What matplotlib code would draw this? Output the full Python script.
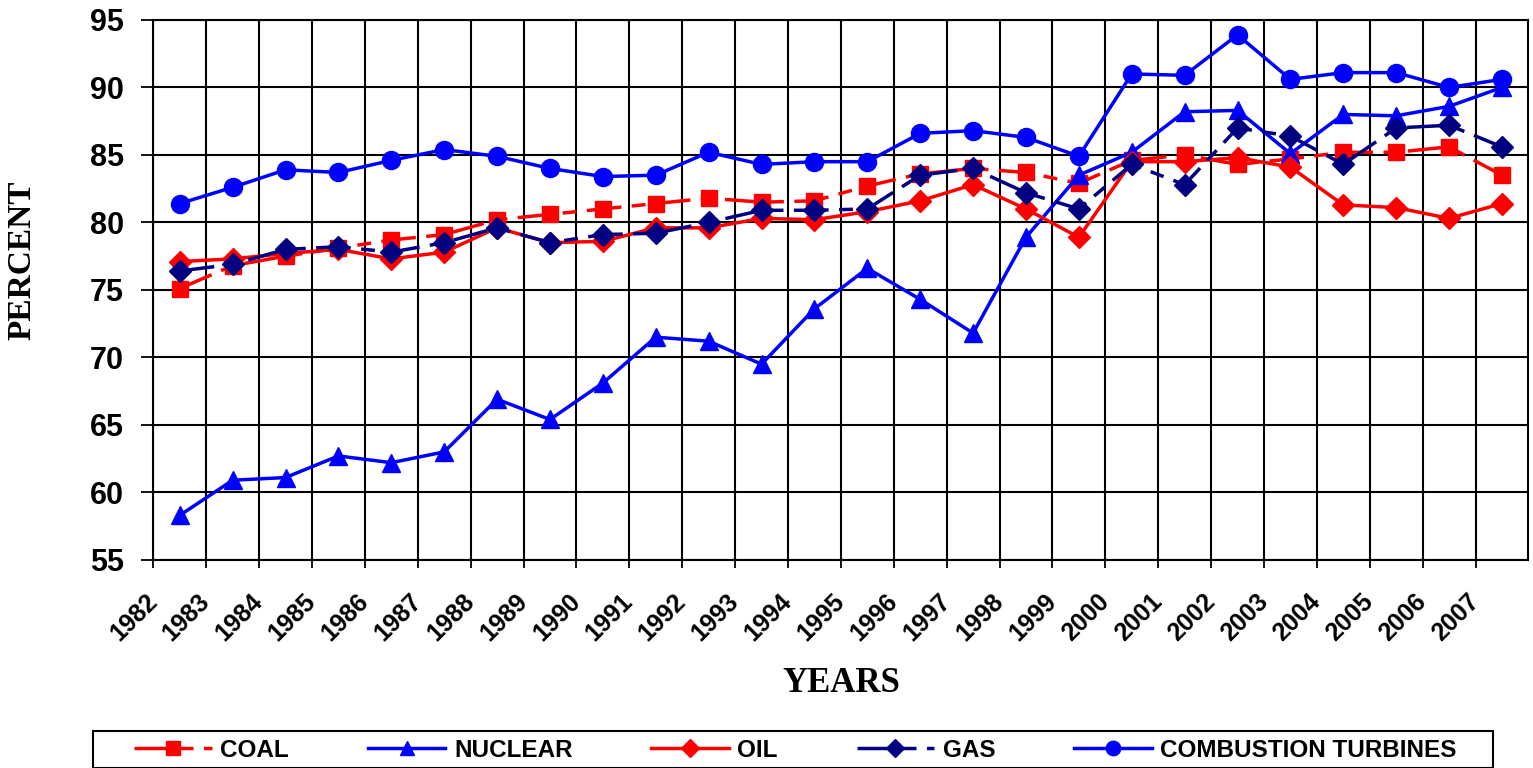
import matplotlib.pyplot as plt
from matplotlib.patches import Rectangle
import numpy as np

# DADOS:
anos = list(range(1982, 2008))
coal = [75.1, 76.8, 77.5, 78.1, 78.7, 79.1, 80.2, 80.6, 81.0, 81.4, 81.8, 81.5, 81.6, 82.7,
        83.6, 84.0, 83.7, 82.9, 84.6, 85.0, 84.3, 84.7, 85.2, 85.2, 85.6, 83.5]
nuclear = [58.3, 60.9, 61.1, 62.7, 62.2, 63.0, 66.9, 65.4, 68.1, 71.5, 71.2, 69.5, 73.6, 76.6,
           74.3, 71.8, 78.9, 83.5, 85.2, 88.2, 88.3, 85.1, 88.0, 87.9, 88.6, 90.0]
oil = [77.1, 77.3, 77.7, 78.0, 77.3, 77.8, 79.6, 78.5, 78.6, 79.6, 79.6, 80.3, 80.2, 80.8,
       81.6, 82.8, 81.0, 78.9, 84.5, 84.5, 84.8, 84.1, 81.3, 81.1, 80.3, 81.4]
gas = [76.4, 76.9, 78.0, 78.2, 77.8, 78.5, 79.6, 78.5, 79.1, 79.2, 80.0, 80.9, 80.9, 81.0,
       83.5, 84.0, 82.2, 81.0, 84.3, 82.8, 87.0, 86.4, 84.3, 87.0, 87.2, 85.6]
turbinas = [81.4, 82.6, 83.9, 83.7, 84.6, 85.4, 84.9, 84.0, 83.4, 83.5, 85.2, 84.3, 84.5, 84.5,
            86.6, 86.8, 86.3, 84.9, 91.0, 90.9, 93.9, 90.6, 91.1, 91.1, 90.0, 90.6]

fig = plt.figure(figsize=(15.33, 7.68), dpi=100)
ax = fig.add_axes([0.1, 0.271, 0.897, 0.703])

x = np.arange(len(anos)) + 0.5
lw = 2.5
tracejado = (10, 3, 4, 3)
ax.plot(x, coal, color='#ff0000', lw=lw, dashes=tracejado, marker='s', ms=12, label='COAL')
ax.plot(x, nuclear, color='#0000ff', lw=lw, marker='^', ms=13, label='NUCLEAR')
ax.plot(x, oil, color='#ff0000', lw=lw, marker='D', ms=11, label='OIL')
ax.plot(x, gas, color='#000080', lw=lw, dashes=tracejado, marker='D', ms=11, label='GAS')
ax.plot(x, turbinas, color='#0000ff', lw=lw, marker='o', ms=13, label='COMBUSTION TURBINES')

ax.set_xlim(0, len(anos))
ax.set_ylim(55, 95)
ax.set_yticks(range(55, 96, 5))
ax.set_xticks(np.arange(len(anos)))
ax.set_xticklabels(anos, rotation=45, ha='right', va='center', rotation_mode='anchor',
                   fontsize=18, fontweight='bold', family='Liberation Sans')
for t in ax.get_yticklabels():
    t.set_fontsize(22)
    t.set_fontweight('bold')
    t.set_family('Liberation Sans')
ax.tick_params(axis='x', direction='out', length=6, width=1.3, pad=21)
ax.tick_params(axis='y', direction='out', length=9, width=1.3, pad=12)
ax.grid(True, color='black', lw=1.5)
ax.set_axisbelow(True)
for s in ax.spines.values():
    s.set_linewidth(1.5)

fig.text(841 / 1533, 1 - 684 / 768, 'YEARS', fontsize=25, fontweight='bold',
         family='Liberation Serif', ha='center', va='center')
fig.text(22 / 1533, 1 - 260 / 768, 'PERCENT', fontsize=24, fontweight='bold',
         family='Liberation Serif', ha='center', va='center', rotation=90)

# legenda: caixa desenhada à parte, itens espalhados por dentro
fig.add_artist(Rectangle((93 / 1533, 0.0), 1400 / 1533, 37 / 768, transform=fig.transFigure,
                         facecolor='white', edgecolor='black', lw=1.5, zorder=1))
leg = fig.legend(loc='lower left', bbox_to_anchor=(128 / 1533, 0.0, 1335 / 1533, 37 / 768),
                 mode='expand', ncol=5, frameon=False,
                 handlelength=3.2, handletextpad=0.35, markerscale=0.8, borderaxespad=0,
                 borderpad=0.25,
                 prop={'family': 'Liberation Sans', 'weight': 'bold', 'size': 17.5})
leg.set_zorder(2)

plt.savefig('out.png', dpi=100)
plt.close()
